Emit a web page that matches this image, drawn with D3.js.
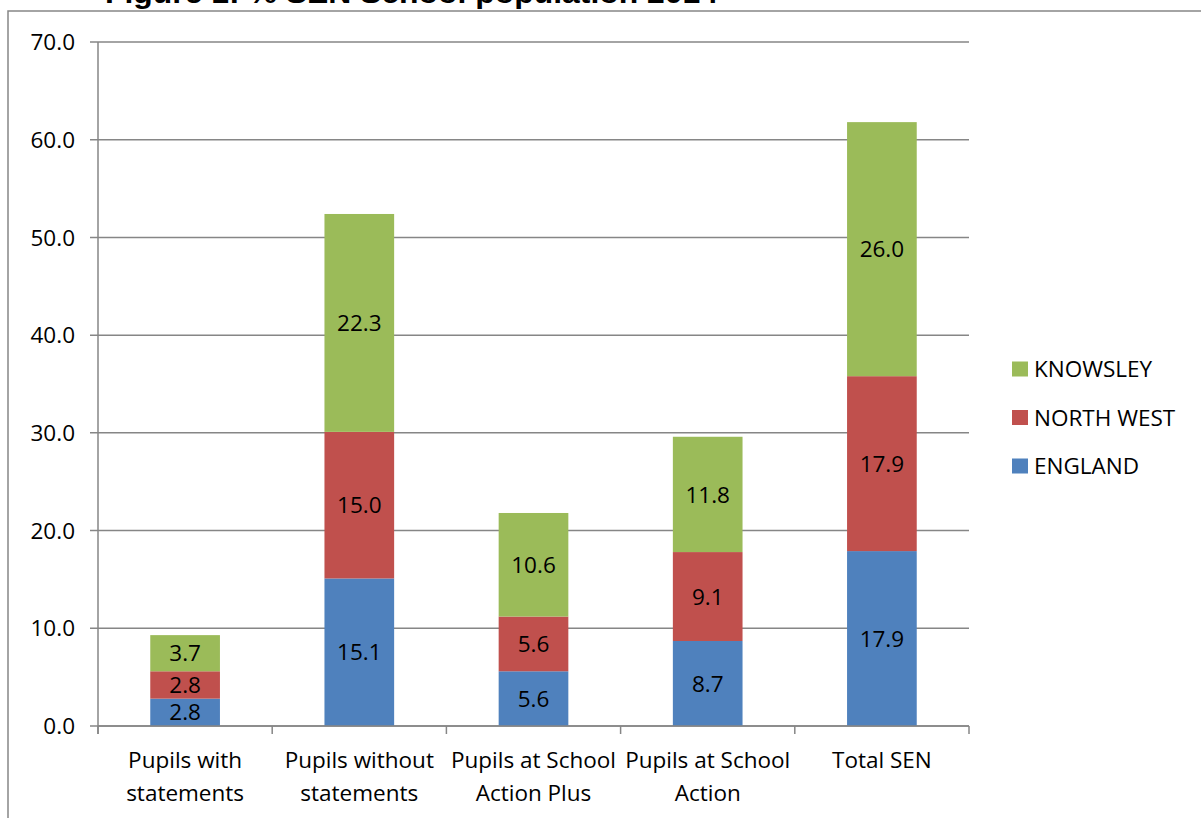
<!DOCTYPE html>
<html><head><meta charset="utf-8">
<script src="https://cdn.jsdelivr.net/npm/d3@7"></script>
<style>html,body{margin:0;padding:0;background:#fff;overflow:hidden}</style>
</head><body>
<svg id="c" width="1201" height="818"></svg>
<script>
const categories = [["Pupils with","statements"],["Pupils without","statements"],["Pupils at School","Action Plus"],["Pupils at School","Action"],["Total SEN"]];
const seriesNames = ["ENGLAND","NORTH WEST","KNOWSLEY"];
const england = [2.8, 15.1, 5.6, 8.7, 17.9];
const northWest = [2.8, 15.0, 5.6, 9.1, 17.9];
const knowsley = [3.7, 22.3, 10.6, 11.8, 26.0];
const yTicks = [0,10,20,30,40,50,60,70];
const colors = ["#4F81BD","#C0504D","#9BBB59"];
const title = "Figure 1: % SEN School population 2014";

const font = "'Open Sans', Lato, sans-serif";
const fs = 22.5;
const svg = d3.select("#c");
svg.append("rect").attr("x",8).attr("y",11).attr("width",1300).attr("height",900)
  .attr("fill","none").attr("stroke","#868686").attr("stroke-width",1.5);
svg.append("text").attr("x",105).attr("y",3).attr("font-family","'Liberation Sans', Arial, sans-serif")
  .attr("font-weight","bold").attr("font-size",30).attr("fill","#000")
  .attr("textLength",613).attr("lengthAdjust","spacingAndGlyphs").text(title);

const x0 = 98, x1 = 969, yTop = 42, yBot = 726;
const x = d3.scaleBand().domain(d3.range(categories.length)).range([x0,x1]).paddingInner(0.6).paddingOuter(0.3);
const xb = d3.scaleBand().domain(d3.range(categories.length)).range([x0,x1]);
const y = d3.scaleLinear().domain([0,70]).range([yBot,yTop]);

// gridlines
svg.append("g").selectAll("line").data(yTicks).join("line")
  .attr("x1",x0-8).attr("x2",x1).attr("y1",d=>y(d)).attr("y2",d=>y(d))
  .attr("stroke","#868686").attr("stroke-width",1.5);
svg.append("g").selectAll("text").data(yTicks).join("text")
  .attr("x",75).attr("y",d=>y(d)).attr("dy","0.36em").attr("text-anchor","end")
  .attr("font-family",font).attr("font-size",fs).attr("fill","#000").text(d=>d.toFixed(1));

const data = [england, northWest, knowsley];
const stacked = categories.map((c,i)=>{let acc=0;return data.map((s,k)=>{const a=acc;acc+=s[i];return {i,k,y0:a,y1:acc,v:s[i]};});}).flat();
svg.append("g").selectAll("rect").data(stacked).join("rect")
  .attr("x",d=>x(d.i)).attr("width",x.bandwidth())
  .attr("y",d=>y(d.y1)).attr("height",d=>y(d.y0)-y(d.y1))
  .attr("fill",d=>colors[d.k]);
svg.append("g").selectAll("text").data(stacked).join("text")
  .attr("x",d=>x(d.i)+x.bandwidth()/2).attr("y",d=>(y(d.y0)+y(d.y1))/2).attr("dy","0.36em")
  .attr("text-anchor","middle").attr("font-family",font).attr("font-size",fs).attr("fill","#000")
  .text(d=>d.v.toFixed(1));

// axes
svg.append("line").attr("x1",x0).attr("x2",x0).attr("y1",yTop).attr("y2",yBot+8).attr("stroke","#868686").attr("stroke-width",1.5);
svg.append("line").attr("x1",x0).attr("x2",x1).attr("y1",yBot).attr("y2",yBot).attr("stroke","#868686").attr("stroke-width",1.5);
const bt = d3.range(categories.length+1).map(i=> i<categories.length ? xb(i) : x1);
svg.append("g").selectAll("line").data(bt).join("line")
  .attr("x1",d=>d).attr("x2",d=>d).attr("y1",yBot).attr("y2",yBot+8).attr("stroke","#868686").attr("stroke-width",1.5);
const cl = svg.append("g").selectAll("text").data(categories).join("text")
  .attr("text-anchor","middle").attr("font-family",font).attr("font-size",fs).attr("fill","#000");
cl.each(function(d,i){
  const t=d3.select(this);
  d.forEach((line,j)=>t.append("tspan").attr("x",xb(i)+xb.bandwidth()/2).attr("y",768+j*33).text(line));
});

// legend
const leg = [2,1,0];
const lg = svg.append("g").selectAll("g").data(leg).join("g")
  .attr("transform",(d,j)=>`translate(1012,${369+j*48.5})`);
lg.append("rect").attr("x",0).attr("y",-7.5).attr("width",16).attr("height",15).attr("fill",d=>colors[d]);
lg.append("text").attr("x",22).attr("dy","0.36em").attr("font-family",font).attr("font-size",fs).attr("fill","#000").text(d=>seriesNames[d]);
</script>
</body></html>
